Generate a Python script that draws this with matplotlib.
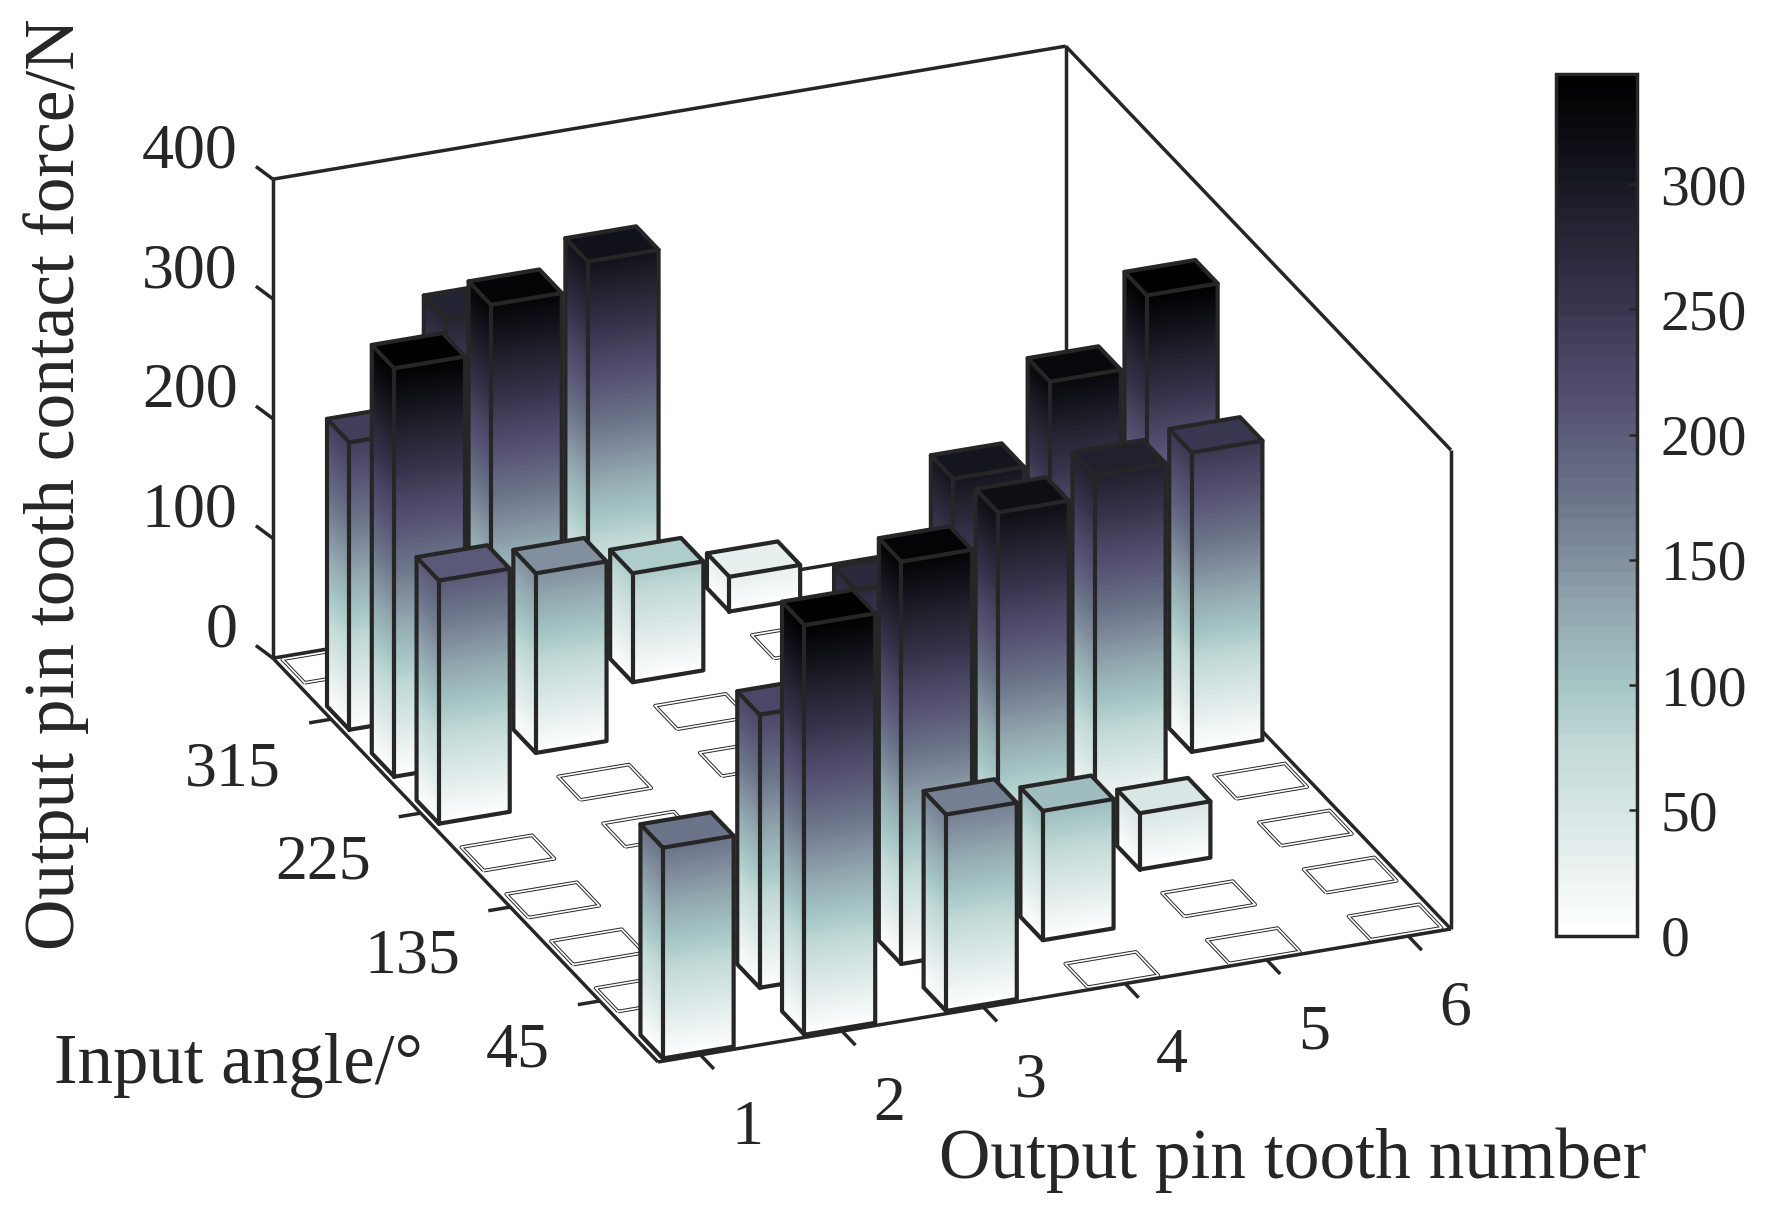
import matplotlib

matplotlib.use("Agg")

import matplotlib.pyplot as plt
import numpy as np
from matplotlib.cm import ScalarMappable
from matplotlib.colors import LinearSegmentedColormap, Normalize
from mpl_toolkits.mplot3d import proj3d
from mpl_toolkits.mplot3d.art3d import Line3DCollection, Poly3DCollection

# rows of each list: input angle 0, 45, ... 360 deg, front to back
pin_1 = [176, 0, 0, 0, 0, 203, 341, 240, 0]
pin_2 = [342, 228, 0, 0, 0, 0, 150, 335, 284]
pin_3 = [164, 336, 273, 0, 0, 0, 0, 91, 312]
pin_4 = [0, 108, 318, 307, 0, 0, 0, 0, 29]
pin_5 = [0, 0, 47, 290, 329, 0, 0, 0, 0]
pin_6 = [0, 0, 0, 0, 250, 342, 0, 0, 0]
pins = [1, 2, 3, 4, 5, 6]
angle_rows = [0, 45, 90, 135, 180, 225, 270, 315, 360]
angle_ticks = [45, 135, 225, 315]
force_ticks = [0, 100, 200, 300, 400]
colorbar_ticks = [0, 50, 100, 150, 200, 250, 300]

cmap_values = [0, 25, 50, 75, 95, 125, 150, 175, 205, 230, 255, 285, 315, 344]
cmap_colors = ["#ffffff", "#eaf1f1", "#d5e5e3", "#c1d9d6", "#a8c8c7", "#94acb2",
               "#828f9e", "#6b7489", "#5a5877", "#4a4664", "#36344c", "#242331",
               "#101018", "#000000"]

INK = "#262626"
BOX_LINE = 2.5
BAR_LINE = 3.0
FONT = "Liberation Serif"
BAR_HALF = 0.25
XLIM = (0.7, 6.3)
YLIM = (0.7, 9.3)
ZLIM = (0, 400)

plt.rcParams["font.family"] = FONT

cmap = LinearSegmentedColormap.from_list(
    "pin", [(v / cmap_values[-1], c) for v, c in zip(cmap_values, cmap_colors)], N=64
)
bar_cmap = cmap.resampled(256)
norm = Normalize(0, cmap_values[-1])


def place_axes(ax, width, height):
    # fit the square 3d axes so the floor corners land where they should
    front = (658.0, 1062.0)
    right = (1450.6, 927.5)
    side = 1200.0
    cx, cy = 850.0, 600.0
    for _ in range(3):
        ax.set_position([(cx - side / 2) / width, (cy - side / 2) / height,
                         side / width, side / height])
        ax.apply_aspect()
        pts = []
        for x, y in ((XLIM[0], YLIM[0]), (XLIM[1], YLIM[0])):
            u, v, _w = proj3d.proj_transform(x, y, 0, ax.get_proj())
            pts.append(ax.transData.transform((u, v)))
        span = np.hypot(*(pts[1] - pts[0]))
        target = np.hypot(right[0] - front[0], right[1] - front[1])
        side *= target / span
        ax.set_position([(cx - side / 2) / width, (cy - side / 2) / height,
                         side / width, side / height])
        ax.apply_aspect()
        u, v, _w = proj3d.proj_transform(XLIM[0], YLIM[0], 0, ax.get_proj())
        px = ax.transData.transform((u, v))
        cx += front[0] - px[0]
        cy += (height - front[1]) - px[1]
    ax.set_position([(cx - side / 2) / width, (cy - side / 2) / height,
                     side / width, side / height])
    ax.apply_aspect()


def draw_box(ax):
    x0, x1 = XLIM
    y0, y1 = YLIM
    z0, z1 = ZLIM
    segments = [
        ((x0, y1, z0), (x1, y1, z0)),
        ((x1, y0, z0), (x1, y1, z0)),
        ((x0, y1, z0), (x0, y1, z1)),
        ((x1, y1, z0), (x1, y1, z1)),
        ((x1, y0, z0), (x1, y0, z1)),
        ((x0, y1, z1), (x1, y1, z1)),
        ((x1, y1, z1), (x1, y0, z1)),
        ((x0, y0, z0), (x0, y1, z0)),
        ((x0, y0, z0), (x1, y0, z0)),
    ]
    for pin in pins:
        segments.append(((pin, y0, z0), (pin, y0 - 0.3, z0)))
    for angle in angle_ticks:
        row = angle_rows.index(angle) + 1
        segments.append(((x0, row, z0), (x0 - 0.155, row, z0)))
    for force in force_ticks:
        segments.append(((x0, y1, force), (x0 - 0.03, y1 + 0.285, force)))
    ax.add_collection3d(
        Line3DCollection(segments, colors=INK, linewidths=BOX_LINE, zorder=1),
        autolim=False,
    )


def draw_bar(ax, col, row, height, order):
    x0, x1 = col - BAR_HALF, col + BAR_HALF
    y0, y1 = row - BAR_HALF, row + BAR_HALF
    if height <= 0:
        quad = [[(x0, y0, 0), (x1, y0, 0), (x1, y1, 0), (x0, y1, 0), (x0, y0, 0)]]
        ax.add_collection3d(
            Line3DCollection(quad, colors=INK, linewidths=2.6, zorder=order),
            autolim=False,
        )
        ax.add_collection3d(
            Line3DCollection(quad, colors="white", linewidths=1.2, zorder=order + 1),
            autolim=False,
        )
        return
    levels = np.append(np.arange(0, height, 1.5), height)
    polys, colors = [], []
    for low, high in zip(levels[:-1], levels[1:]):
        color = bar_cmap(norm((low + high) / 2))
        polys.append([(x0, y0, low), (x1, y0, low), (x1, y0, high), (x0, y0, high)])
        colors.append(color)
        polys.append([(x0, y0, low), (x0, y1, low), (x0, y1, high), (x0, y0, high)])
        colors.append(color)
    polys.append([(x0, y0, height), (x1, y0, height), (x1, y1, height), (x0, y1, height)])
    colors.append(bar_cmap(norm(height)))
    faces = Poly3DCollection(polys, facecolors=colors, edgecolors="none",
                             linewidths=0, antialiased=False, zorder=order)
    ax.add_collection3d(faces, autolim=False)
    edges = [
        [(x0, y0, height), (x1, y0, height), (x1, y1, height), (x0, y1, height), (x0, y0, height)],
        [(x0, y1, height), (x0, y1, 0), (x0, y0, 0), (x1, y0, 0), (x1, y0, height)],
        [(x0, y0, 0), (x0, y0, height)],
    ]
    ax.add_collection3d(
        Line3DCollection(edges, colors=INK, linewidths=BAR_LINE, zorder=order + 1,
                         capstyle="round", joinstyle="round"),
        autolim=False,
    )


def label_3d(ax, x, y, z, text, ha):
    u, v, _w = proj3d.proj_transform(x, y, z, ax.get_proj())
    ax.text2D(u, v, text, transform=ax.transData, fontsize=46, color=INK,
              ha=ha, va="center", zorder=500)


def main():
    width, height = 1768, 1210
    fig = plt.figure(figsize=(width / 100, height / 100), dpi=100)
    ax = fig.add_axes([0, 0, 1, 1], projection="3d", proj_type="ortho",
                      computed_zorder=False)
    ax.set_autoscale_on(False)
    ax.set_xlim(*XLIM, view_margin=0)
    ax.set_ylim(*YLIM, view_margin=0)
    ax.set_zlim(*ZLIM, view_margin=0)
    ax.set_xticks([])
    ax.set_yticks([])
    ax.set_zticks([])
    ax.set_box_aspect((853.7, 1036.7, 527.5))
    ax.view_init(elev=24.8, azim=-111.8)
    ax.set_axis_off()
    place_axes(ax, width, height)

    draw_box(ax)

    columns = [pin_1, pin_2, pin_3, pin_4, pin_5, pin_6]
    cells = [(c, r + 1, columns[c - 1][r]) for c in pins for r in range(len(angle_rows))]
    cells.sort(key=lambda cell: -(0.37 * cell[0] + 0.93 * cell[1]))
    for index, (col, row, force) in enumerate(cells):
        draw_bar(ax, col, row, force, 10 + 2 * index)

    for pin in pins:
        label_3d(ax, pin - 0.143, YLIM[0] - 1.5, 0, str(pin), "center")
    for angle in angle_ticks:
        row = angle_rows.index(angle) + 1
        label_3d(ax, XLIM[0] - 0.6, row - 0.78, 0, str(angle), "right")
    for force in force_ticks:
        label_3d(ax, XLIM[0] - 0.06, YLIM[1] + 0.6, force, str(force), "right")

    fig.text(56 / width, 1 - 484 / height, "Output pin tooth contact force/N", rotation=90,
             fontsize=51.3, color=INK, ha="center", va="center")
    fig.text(54 / width, 1 - 1066 / height, "Input angle/\u00b0", fontsize=51, color=INK,
             ha="left", va="center")
    fig.text(1646 / width, 1 - 1160 / height, "Output pin tooth number", fontsize=51.3, color=INK,
             ha="right", va="center")

    cax = fig.add_axes([1556 / width, 1 - 935.5 / height, 81 / width, 861.5 / height])
    bar = fig.colorbar(ScalarMappable(norm=norm, cmap=cmap), cax=cax)
    bar.set_ticks(colorbar_ticks)
    bar.outline.set_linewidth(BOX_LINE)
    bar.outline.set_edgecolor(INK)
    cax.tick_params(direction="in", length=6, width=1.8, color=INK, labelcolor=INK,
                    labelsize=41.5, pad=17)

    fig.savefig("out.png", dpi=100)


if __name__ == "__main__":
    main()
